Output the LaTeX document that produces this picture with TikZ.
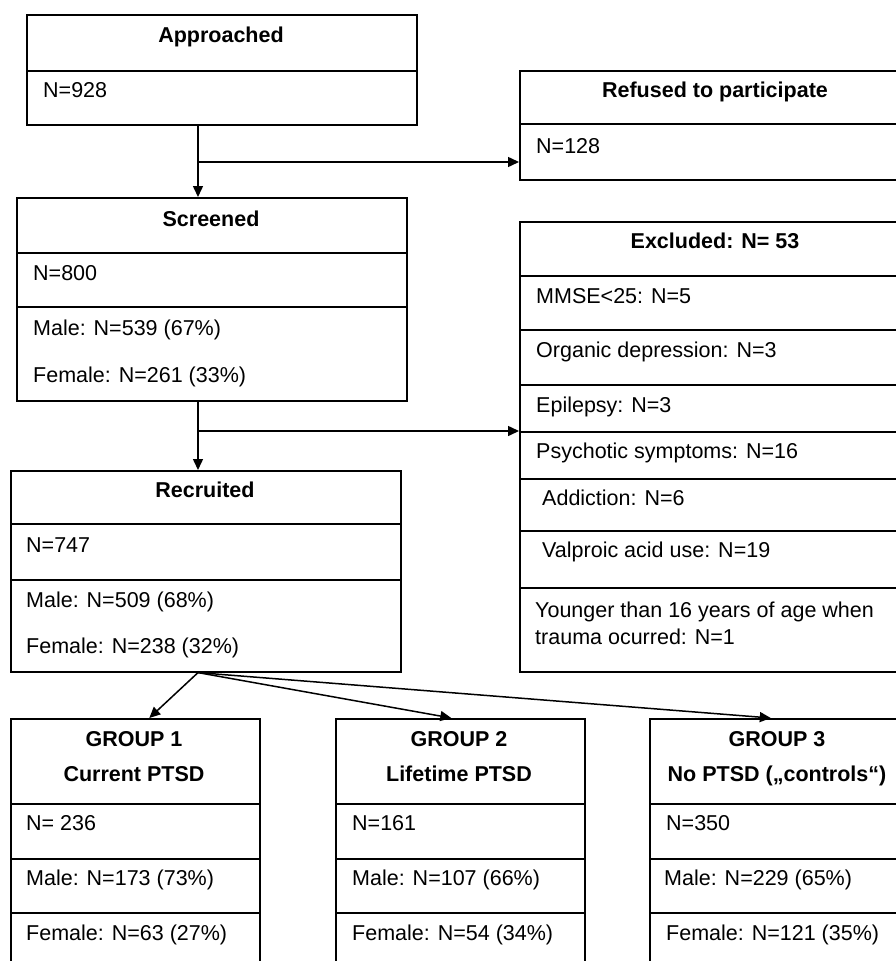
\documentclass[tikz,border=0pt]{standalone}
\usepackage{fontspec}
\setmainfont{Liberation Sans}
\usetikzlibrary{arrows.meta}
\tikzset{
  cell/.style={draw, line width=1.6pt, anchor=north west, inner sep=0pt, minimum width=390pt},
  wcell/.style={cell, minimum width=392pt},
  gcell/.style={cell, minimum width=249pt},
  head/.style={font=\bfseries, anchor=base, inner sep=0pt},
  txt/.style={anchor=base west, inner sep=0pt},
  arr/.style={line width=1.5pt, -{Triangle[length=11pt,width=10pt]}}
}
\begin{document}
\fontsize{21.5}{26}\selectfont
\begin{tikzpicture}[x=1pt,y=-1pt]
\useasboundingbox (0,0) rectangle (896,961);
\clip (0,0) rectangle (896,961);

\node[cell, minimum height=56pt] (apprH) at (26,14) {};
\node[cell, minimum height=54pt] (apprN) at (26,70) {};
\node[head] (apprT) at (221,42) {Approached};
\node[txt] (apprV) at (43,97) {N=928};

\node[cell, minimum height=55pt] (scrH) at (16,197) {};
\node[cell, minimum height=54pt] (scrN) at (16,252) {};
\node[cell, minimum height=94pt] (scrS) at (16,306) {};
\node[head] (scrT) at (211,226) {Screened};
\node[txt] (scrV) at (33,280) {N=800};
\node[txt] (scrM) at (33,335) {Male: N=539 (67\%)};
\node[txt] (scrF) at (33,382) {Female: N=261 (33\%)};

\node[cell, minimum height=53pt] (recH) at (10,470) {};
\node[cell, minimum height=56pt] (recN) at (10,523) {};
\node[cell, minimum height=92pt] (recS) at (10,579) {};
\node[head] (recT) at (205,497) {Recruited};
\node[txt] (recV) at (26,552) {N=747};
\node[txt] (recM) at (26,607) {Male: N=509 (68\%)};
\node[txt] (recF) at (26,653) {Female: N=238 (32\%)};

\node[wcell, minimum height=53pt] (refH) at (519,70) {};
\node[wcell, minimum height=56pt] (refN) at (519,123) {};
\node[head] (refT) at (715,97) {Refused to participate};
\node[txt] (refV) at (536,153) {N=128};

\node[wcell, minimum height=54pt] (excH) at (519,221) {};
\node[wcell, minimum height=54pt] (excA) at (519,275) {};
\node[wcell, minimum height=55pt] (excB) at (519,329) {};
\node[wcell, minimum height=47pt] (excC) at (519,384) {};
\node[wcell, minimum height=47pt] (excD) at (519,431) {};
\node[wcell, minimum height=52pt] (excE) at (519,478) {};
\node[wcell, minimum height=57pt] (excF) at (519,530) {};
\node[wcell, minimum height=84pt] (excG) at (519,587) {};
\node[head] (excT) at (715,248) {Excluded: N= 53};
\node[txt] (excA1) at (536,303) {MMSE<25: N=5};
\node[txt] (excB1) at (536,357) {Organic depression: N=3};
\node[txt] (excC1) at (536,412) {Epilepsy: N=3};
\node[txt] (excD1) at (536,458) {Psychotic symptoms: N=16};
\node[txt] (excE1) at (542,505) {Addiction: N=6};
\node[txt] (excF1) at (542,557) {Valproic acid use: N=19};
\node[txt] (excG1) at (535,617) {Younger than 16 years of age when};
\node[txt] (excG2) at (535,644) {trauma ocurred: N=1};

\node[gcell, minimum height=85pt] (g1H) at (10,718) {};
\node[gcell, minimum height=55pt] (g1N) at (10,803) {};
\node[gcell, minimum height=54pt] (g1M) at (10,858) {};
\node[gcell, minimum height=60pt] (g1F) at (10,912) {};
\node[head] (g1T) at (134,746) {GROUP 1};
\node[head] (g1S) at (134,781) {Current PTSD};
\node[txt] (g1V) at (26,830) {N= 236};
\node[txt] (g1Mt) at (26,885) {Male: N=173 (73\%)};
\node[txt] (g1Ft) at (26,940) {Female: N=63 (27\%)};

\node[gcell, minimum height=85pt] (g2H) at (335,718) {};
\node[gcell, minimum height=55pt] (g2N) at (335,803) {};
\node[gcell, minimum height=54pt] (g2M) at (335,858) {};
\node[gcell, minimum height=60pt] (g2F) at (335,912) {};
\node[head] (g2T) at (459,746) {GROUP 2};
\node[head] (g2S) at (459,781) {Lifetime PTSD};
\node[txt] (g2V) at (352,830) {N=161};
\node[txt] (g2Mt) at (352,885) {Male: N=107 (66\%)};
\node[txt] (g2Ft) at (352,940) {Female: N=54 (34\%)};

\node[gcell, minimum width=256pt, minimum height=85pt] (g3H) at (649,718) {};
\node[gcell, minimum width=256pt, minimum height=55pt] (g3N) at (649,803) {};
\node[gcell, minimum width=256pt, minimum height=54pt] (g3M) at (649,858) {};
\node[gcell, minimum width=256pt, minimum height=60pt] (g3F) at (649,912) {};
\node[head] (g3T) at (777,746) {GROUP 3};
\node[head] (g3S) at (777,781) {No PTSD („controls“)};
\node[txt] (g3V) at (666,830) {N=350};
\node[txt] (g3Mt) at (664,885) {Male: N=229 (65\%)};
\node[txt] (g3Ft) at (666,940) {Female: N=121 (35\%)};

\coordinate (j1) at (198,162);
\coordinate (j2) at (198,431);
\draw[arr] (apprN.south -| j1) -- (scrH.north -| j1);
\draw[arr] (j1) -- (j1 -| refN.west);
\draw[arr] (scrS.south -| j2) -- (recH.north -| j2);
\draw[arr] (j2) -- (j2 -| excD.west);
\coordinate (j3) at (recS.south -| j2);
\draw[arr] (j3) -- ([xshift=14pt]g1H.north);
\draw[arr] (j3) -- ([xshift=-9pt]g2H.north);
\draw[arr] (j3) -- ([xshift=-7pt]g3H.north);

\end{tikzpicture}
\end{document}
